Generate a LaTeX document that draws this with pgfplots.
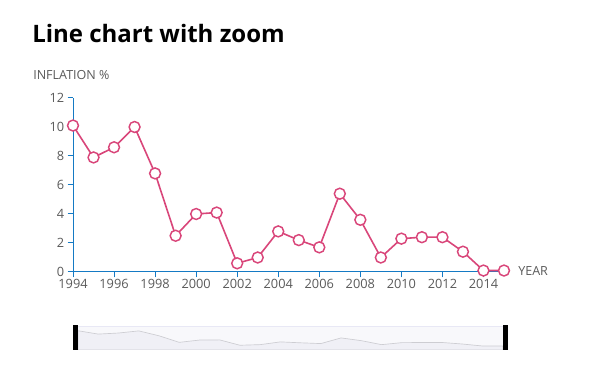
\documentclass[border=0pt]{standalone}
\usepackage{pgfplots}
\pgfplotsset{compat=1.18}
\usepackage{fontspec}
\setmainfont{Open Sans}
\definecolor{axblue}{RGB}{21,122,196}
\definecolor{linec}{RGB}{217,70,122}
\definecolor{txtgray}{RGB}{90,90,90}
\definecolor{navfill}{RGB}{248,248,251}
\definecolor{navarea}{RGB}{240,240,246}
\definecolor{navline}{RGB}{205,205,210}
\definecolor{navborder}{RGB}{232,232,245}
\pgfplotstableread{
year val
1994 10.1
1995 7.9
1996 8.6
1997 10.0
1998 6.8
1999 2.5
2000 4.0
2001 4.1
2002 0.6
2003 1.0
2004 2.8
2005 2.2
2006 1.7
2007 5.4
2008 3.6
2009 1.0
2010 2.3
2011 2.4
2012 2.4
2013 1.4
2014 0.1
2015 0.1
}\datatable
\begin{document}
\begin{tikzpicture}
\begin{scope}[x=0.75pt,y=0.75pt]
\path[use as bounding box] (0,0) rectangle (600,392);
\node[anchor=base west,inner sep=0pt,font=\fontsize{18}{20}\selectfont\bfseries] at (32,349) {Line chart with zoom};
\node[anchor=base west,inner sep=0pt,text=txtgray,font=\fontsize{9.4}{11}\selectfont] at (33,312) {INFLATION \%};
\node[anchor=base west,inner sep=0pt,text=txtgray,font=\fontsize{9.4}{11}\selectfont] at (518,116) {YEAR};
\end{scope}
\begin{axis}[
  at={(54.75pt,90pt)}, anchor=south west,
  scale only axis, width=323.25pt, height=130.5pt,
  xmin=1994, xmax=2015, ymin=0, ymax=12,
  axis x line*=bottom, axis y line*=left,
  axis line style={axblue, line width=0.75pt, -},
  xtick={1994,1996,...,2014}, ytick={0,2,...,12},
  tick style={axblue, line width=0.75pt},
  tick align=outside, major tick length=4pt,
  x tick label style={/pgf/number format/1000 sep={}},
  /pgf/number format/assume math mode=true,
  tick label style={text=txtgray, font=\fontsize{9.6}{11}\selectfont},
  xticklabel style={yshift=2pt},
  yticklabel style={xshift=1pt},
  clip=false,
]
\addplot[linec, line width=1.2pt, mark=*, mark size=4.1pt,
  mark options={fill=white, draw=linec, line width=1.1pt}] table[x=year,y=val] {\datatable};
\end{axis}
\begin{axis}[
  at={(54.75pt,31.5pt)}, anchor=south west,
  scale only axis, width=326.25pt, height=18pt,
  xmin=1993.75, xmax=2015.25, ymin=-2.5, ymax=13.2,
  hide axis, clip=true,
]
\fill[navfill] (axis cs:1993.75,-2.5) rectangle (axis cs:2015.25,13.2);
\addplot[draw=navline, line width=0.5pt, fill=navarea] table[x=year,y=val] {\datatable} |- (axis cs:1994,-2.5) -- cycle;
\draw[navborder, line width=0.6pt] (axis cs:1993.75,-2.5) rectangle (axis cs:2015.25,13.2);
\end{axis}
\begin{scope}[x=0.75pt,y=0.75pt]
\fill[black] (73,41.5) rectangle (78,66.5);
\fill[black] (503,41.5) rectangle (508,66.5);
\end{scope}
\end{tikzpicture}
\end{document}
